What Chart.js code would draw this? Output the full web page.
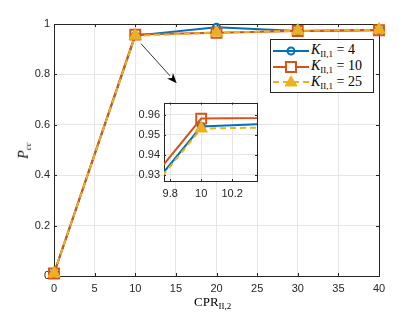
<!DOCTYPE html>
<html>
<head>
<meta charset="utf-8">
<script src="https://cdn.jsdelivr.net/npm/chart.js"></script>
<style>
body { margin: 0; background: #fff; }
#wrap { position: relative; width: 420px; height: 313px; overflow: hidden; }
#main { position: absolute; left: 0; top: 0; }
#inset { position: absolute; left: 124px; top: 92px; }
#legend { position: absolute; left: 270px; top: 39px; width: 104px; height: 54px; border: 1px solid #262626; background: #fff; padding-top: 3px; box-sizing: border-box; }
.row { display: flex; align-items: center; height: 15.7px; font-family: "Liberation Serif", serif; font-size: 14px; color: #000; }
.row svg { margin-left: 2px; margin-right: 2px; }
.row sub { font-size: 9px; font-style: normal; vertical-align: -3px; }
.title { position: absolute; font-family: "Liberation Serif", serif; color: #000; white-space: nowrap; }
.title sub { font-size: 9px; vertical-align: -3px; }
#xtitle { left: 194px; top: 294px; font-size: 13px; }
#ytitle { left: 16px; top: 142px; font-size: 14px; transform: rotate(-90deg); transform-origin: center; }
</style>
</head>
<body>
<div id="wrap">
  <canvas id="main" width="420" height="313"></canvas>
  <canvas id="inset" width="142" height="112"></canvas>
  <div id="legend"></div>
  <div class="title" id="xtitle">CPR<sub>II,2</sub></div>
  <div class="title" id="ytitle"><i>P</i><sub><i>cc</i></sub></div>
</div>
<script>
// data
const cpr = [0, 10, 20, 30, 40];
const pK4 = [0.01, 0.954, 0.987, 0.972, 0.976];
const pK10 = [0.01, 0.958, 0.965, 0.972, 0.975];
const pK25 = [0.01, 0.953, 0.966, 0.973, 0.977];
const seriesNames = ['4', '10', '25'];
const seriesColors = ['#0072BD', '#D95319', '#EDB120'];

const xTicks = [0, 5, 10, 15, 20, 25, 30, 35, 40];
const yTicks = [0, 0.2, 0.4, 0.6, 0.8, 1];
const insetXTicks = [9.8, 10, 10.2];
const insetYTicks = [0.93, 0.94, 0.95, 0.96];

const tickFont = { family: 'Liberation Sans', size: 11 };
const axisColor = '#262626';
const gridColor = '#e6e6e6';

function makeDatasets(clip) {
  const vals = [pK4, pK10, pK25];
  const styles = ['circle', 'rect', 'triangle'];
  const radii = [3.5, 7, 6];
  return vals.map((v, i) => ({
    label: 'K = ' + seriesNames[i],
    data: cpr.map((x, j) => ({ x: x, y: v[j] })),
    borderColor: seriesColors[i],
    backgroundColor: i === 2 ? seriesColors[i] : 'rgba(0,0,0,0)',
    borderWidth: 2,
    borderDash: i === 2 ? [6, 4] : [],
    pointStyle: styles[i],
    pointRadius: radii[i],
    pointBorderWidth: 2,
    pointBorderColor: seriesColors[i],
    pointBackgroundColor: i === 2 ? seriesColors[i] : 'rgba(0,0,0,0)',
    tension: 0,
    clip: clip,
    order: 3 - i
  }));
}

// axes box + inward ticks, white background inside the plot
const boxPlugin = {
  id: 'box',
  beforeDraw(chart) {
    const a = chart.chartArea, ctx = chart.ctx;
    ctx.save();
    ctx.fillStyle = '#fff';
    ctx.fillRect(a.left, a.top, a.right - a.left, a.bottom - a.top);
    ctx.restore();
  },
  beforeDatasetsDraw(chart) {
    const a = chart.chartArea, ctx = chart.ctx;
    const t = chart.options.plugins.box.tick;
    ctx.save();
    ctx.strokeStyle = axisColor;
    ctx.lineWidth = 1;
    ctx.beginPath();
    chart.scales.x.ticks.forEach(tk => {
      const px = Math.round(chart.scales.x.getPixelForValue(tk.value)) + 0.5;
      ctx.moveTo(px, a.bottom); ctx.lineTo(px, a.bottom - t);
      ctx.moveTo(px, a.top); ctx.lineTo(px, a.top + t);
    });
    chart.scales.y.ticks.forEach(tk => {
      const py = Math.round(chart.scales.y.getPixelForValue(tk.value)) + 0.5;
      ctx.moveTo(a.left, py); ctx.lineTo(a.left + t, py);
      ctx.moveTo(a.right, py); ctx.lineTo(a.right - t, py);
    });
    ctx.stroke();
    ctx.strokeRect(Math.round(a.left) + 0.5, Math.round(a.top) + 0.5,
      Math.round(a.right - a.left), Math.round(a.bottom - a.top));
    ctx.restore();
  }
};

// arrow pointing from the main curve to the zoomed inset
const arrowFrom = { x: 10.7, y: 0.922 };
const arrowTo = { x: 15.1, y: 0.765 };
const arrowPlugin = {
  id: 'arrow',
  afterDraw(chart) {
    if (!chart.options.plugins.arrow.show) return;
    const xs = chart.scales.x, ys = chart.scales.y, ctx = chart.ctx;
    const x1 = xs.getPixelForValue(arrowFrom.x), y1 = ys.getPixelForValue(arrowFrom.y);
    const x2 = xs.getPixelForValue(arrowTo.x), y2 = ys.getPixelForValue(arrowTo.y);
    const ang = Math.atan2(y2 - y1, x2 - x1);
    const len = 10, half = 4;
    ctx.save();
    ctx.strokeStyle = '#000';
    ctx.fillStyle = '#000';
    ctx.lineWidth = 0.8;
    ctx.beginPath();
    ctx.moveTo(x1, y1);
    ctx.lineTo(x2 - len * Math.cos(ang), y2 - len * Math.sin(ang));
    ctx.stroke();
    ctx.beginPath();
    ctx.moveTo(x2, y2);
    ctx.lineTo(x2 - len * Math.cos(ang) + half * Math.sin(ang), y2 - len * Math.sin(ang) - half * Math.cos(ang));
    ctx.lineTo(x2 - 0.7 * len * Math.cos(ang), y2 - 0.7 * len * Math.sin(ang));
    ctx.lineTo(x2 - len * Math.cos(ang) - half * Math.sin(ang), y2 - len * Math.sin(ang) + half * Math.cos(ang));
    ctx.closePath();
    ctx.fill();
    ctx.restore();
  }
};

function axis(min, max, ticks, fit, pad) {
  return {
    type: 'linear',
    min: min,
    max: max,
    afterBuildTicks: s => { s.ticks = ticks.map(v => ({ value: v })); },
    afterFit: fit,
    ticks: {
      autoSkip: false,
      maxRotation: 0,
      padding: pad,
      color: axisColor,
      font: tickFont,
      callback: v => String(v)
    },
    grid: { color: gridColor, drawTicks: false, lineWidth: 1 },
    border: { display: false }
  };
}

new Chart(document.getElementById('main'), {
  type: 'line',
  data: { datasets: makeDatasets(false) },
  options: {
    responsive: false,
    animation: false,
    layout: { padding: { top: 24, right: 41, left: 0, bottom: 0 } },
    scales: {
      x: axis(0, 40, xTicks, s => { s.height = 37; }, 6),
      y: axis(0, 1, yTicks, s => { s.width = 54; }, 4)
    },
    plugins: {
      legend: { display: false },
      tooltip: { enabled: false },
      box: { tick: 3 },
      arrow: { show: true }
    }
  },
  plugins: [boxPlugin, arrowPlugin]
});

new Chart(document.getElementById('inset'), {
  type: 'line',
  data: { datasets: makeDatasets(0) },
  options: {
    responsive: false,
    animation: false,
    layout: { padding: { top: 7, right: 4, left: 0, bottom: 0 } },
    scales: {
      x: axis(9.76, 10.36, insetXTicks, s => { s.height = 23; }, 6),
      y: axis(0.9268, 0.966, insetYTicks, s => { s.width = 40; }, 4)
    },
    plugins: {
      legend: { display: false },
      tooltip: { enabled: false },
      box: { tick: 2 },
      arrow: { show: false }
    }
  },
  plugins: [boxPlugin, arrowPlugin]
});

// legend with subscripted labels
const legend = document.getElementById('legend');
const markerSvg = [
  c => `<circle cx="18" cy="8" r="3.5" fill="none" stroke="${c}" stroke-width="2"/>`,
  c => `<rect x="13" y="3" width="10" height="10" fill="#fff" stroke="${c}" stroke-width="2"/>`,
  c => `<polygon points="18,2 24,12 12,12" fill="${c}" stroke="${c}" stroke-width="1"/>`
];
seriesNames.forEach((n, i) => {
  const c = seriesColors[i];
  const dash = i === 2 ? ' stroke-dasharray="6,4"' : '';
  legend.innerHTML += `<div class="row"><svg width="36" height="16">` +
    `<line x1="0" y1="8" x2="36" y2="8" stroke="${c}" stroke-width="2"${dash}/>` +
    markerSvg[i](c) + `</svg><span><i>K</i><sub>II,1</sub> = ${n}</span></div>`;
});
</script>
</body>
</html>
